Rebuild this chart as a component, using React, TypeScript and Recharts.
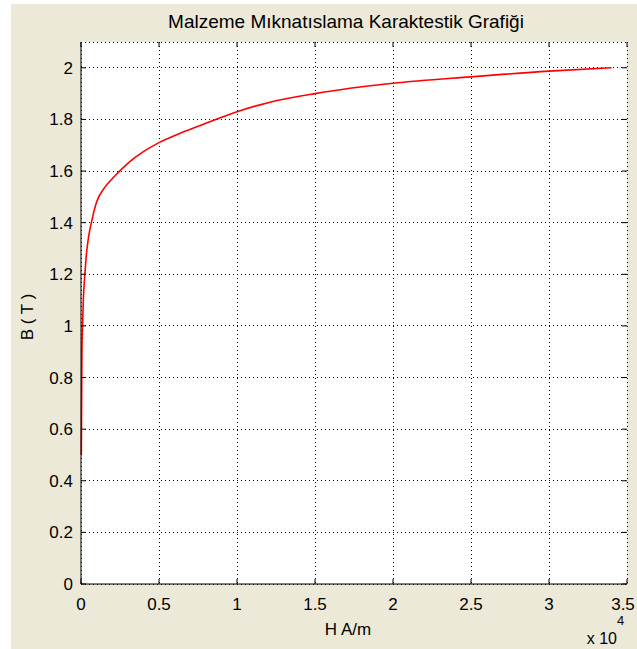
import { LineChart, Line, XAxis, YAxis, CartesianGrid, ReferenceLine, Label } from 'recharts';

// H in A/m, B in Tesla
const H_VALUES = [20, 40, 60, 100, 150, 250, 350, 500, 700, 1000, 1500, 2000, 3000, 4000, 5000, 6500, 8000, 10000, 12000, 15000, 20000, 25000, 30000, 34000];
const B_VALUES = [0.5, 0.7, 0.9, 1.0, 1.1, 1.2, 1.28, 1.35, 1.41, 1.48, 1.535, 1.57, 1.63, 1.675, 1.71, 1.75, 1.785, 1.83, 1.865, 1.9, 1.94, 1.965, 1.987, 2.0];

const X_TICKS = [0, 5000, 10000, 15000, 20000, 25000, 30000, 35000];
const Y_TICKS = [0, 0.2, 0.4, 0.6, 0.8, 1, 1.2, 1.4, 1.6, 1.8, 2];
const X_MAX = 35000;
const Y_MAX = 2.1;

const TITLE = 'Malzeme Mıknatıslama Karaktestik Grafiği';
const X_LABEL = 'H A/m';
const Y_LABEL = 'B ( T )';

const data = H_VALUES.map((h, i) => ({ h, b: B_VALUES[i] }));

const FONT = '"Liberation Sans", Arial, Helvetica, sans-serif';
const TICK_LEN = 5;
const GAP = 6; // tickSize used to offset the custom ticks

// chart frame
const W = 637;
const H = 649;
const M_TOP = 42;
const Y_AXIS_W = 81;
const X_AXIS_H = 65;
const RIGHT_W = 10;

function fmt(v: number) {
  return String(Math.round(v * 100) / 100);
}

function BottomTick({ x, y, payload }: any) {
  const axisY = y - GAP;
  const last = payload.value === X_MAX;
  return (
    <g>
      <line x1={x} x2={x} y1={axisY} y2={axisY - TICK_LEN} stroke="#000" />
      <text
        x={last ? x - 4 : x}
        y={axisY + 26}
        textAnchor="middle"
        fontSize={17}
        fontFamily={FONT}
        fill="#000"
      >
        {fmt(payload.value / 10000)}
      </text>
    </g>
  );
}

function TopTick({ x, y }: any) {
  const axisY = y + GAP;
  return <line x1={x} x2={x} y1={axisY} y2={axisY + TICK_LEN} stroke="#000" />;
}

function LeftTick({ x, y, payload }: any) {
  const axisX = x + GAP;
  return (
    <g>
      <line x1={axisX} x2={axisX + TICK_LEN} y1={y} y2={y} stroke="#000" />
      <text x={axisX - 8} y={y + 6} textAnchor="end" fontSize={17} fontFamily={FONT} fill="#000">
        {fmt(payload.value)}
      </text>
    </g>
  );
}

function RightTick({ x, y }: any) {
  const axisX = x - GAP;
  return <line x1={axisX} x2={axisX - TICK_LEN} y1={y} y2={y} stroke="#000" />;
}

export default function App() {
  return (
    <div style={{ position: 'absolute', left: 0, top: 0, width: W, height: H, background: '#fff' }}>
      <div style={{ position: 'absolute', left: 11, top: 4, right: 0, bottom: 0, background: '#ECE9D8' }} />
      {/* white axes background */}
      <div
        style={{
          position: 'absolute',
          left: Y_AXIS_W,
          top: M_TOP,
          width: W - Y_AXIS_W - RIGHT_W,
          height: H - M_TOP - X_AXIS_H,
          background: '#fff',
        }}
      />
      <div
        style={{
          position: 'absolute',
          left: Y_AXIS_W - 8,
          width: W - Y_AXIS_W - RIGHT_W,
          top: 11,
          textAlign: 'center',
          fontFamily: FONT,
          fontSize: 19,
          lineHeight: '22px',
          color: '#000',
          whiteSpace: 'nowrap',
        }}
      >
        {TITLE}
      </div>
      <div style={{ position: 'absolute', left: 0, top: 0 }}>
        <LineChart width={W} height={H} data={data} margin={{ top: M_TOP - 1, right: 0, bottom: 0, left: 0 }}>
          <CartesianGrid stroke="#000" strokeDasharray="1 3" shapeRendering="crispEdges" />
          <XAxis
            dataKey="h"
            type="number"
            domain={[0, X_MAX]}
            ticks={X_TICKS}
            height={X_AXIS_H}
            tickSize={GAP}
            tickMargin={0}
            tickLine={false}
            axisLine={{ stroke: '#000' }}
            tick={<BottomTick />}
            interval={0}
          >
            <Label
              content={({ viewBox }: any) => (
                <g fontFamily={FONT} fill="#000">
                  <text x={viewBox.x + viewBox.width / 2 - 6} y={viewBox.y + 51} textAnchor="middle" fontSize={17}>
                    {X_LABEL}
                  </text>
                  <text x={viewBox.x + viewBox.width - 10} y={viewBox.y + 60} textAnchor="end" fontSize={16}>
                    x 10
                  </text>
                  <text x={viewBox.x + viewBox.width - 10} y={viewBox.y + 41} textAnchor="start" fontSize={13}>
                    4
                  </text>
                </g>
              )}
            />
          </XAxis>
          <XAxis
            xAxisId="top"
            orientation="top"
            dataKey="h"
            type="number"
            domain={[0, X_MAX]}
            ticks={X_TICKS}
            height={1}
            tickSize={GAP}
            tickMargin={0}
            tickLine={false}
            axisLine={false}
            tick={<TopTick />}
            interval={0}
          />
          <YAxis
            type="number"
            domain={[0, Y_MAX]}
            ticks={Y_TICKS}
            width={Y_AXIS_W}
            tickSize={GAP}
            tickMargin={0}
            tickLine={false}
            axisLine={{ stroke: '#000' }}
            tick={<LeftTick />}
            interval={0}
            allowDataOverflow
          >
            <Label
              content={({ viewBox }: any) => {
                const cx = 27;
                const cy = viewBox.y + viewBox.height / 2 + 4;
                return (
                  <text
                    x={cx}
                    y={cy}
                    transform={`rotate(-90, ${cx}, ${cy})`}
                    textAnchor="middle"
                    dominantBaseline="central"
                    fontSize={17}
                    fontFamily={FONT}
                    fill="#000"
                  >
                    {Y_LABEL}
                  </text>
                );
              }}
            />
          </YAxis>
          <YAxis
            yAxisId="right"
            orientation="right"
            type="number"
            domain={[0, Y_MAX]}
            ticks={Y_TICKS}
            width={RIGHT_W}
            tickSize={GAP}
            tickMargin={0}
            tickLine={false}
            axisLine={false}
            tick={<RightTick />}
            interval={0}
            allowDataOverflow
          />
          <ReferenceLine y={Y_MAX} stroke="#000" strokeDasharray="1 3" shapeRendering="crispEdges" />
          {/* invisible twin so the top/right tick axes get a domain */}
          <Line
            xAxisId="top"
            yAxisId="right"
            dataKey="b"
            stroke="none"
            dot={false}
            activeDot={false}
            isAnimationActive={false}
          />
          <Line
            type="monotone"
            dataKey="b"
            stroke="#ff0000"
            strokeWidth={1.6}
            dot={false}
            isAnimationActive={false}
          />
        </LineChart>
      </div>
    </div>
  );
}
